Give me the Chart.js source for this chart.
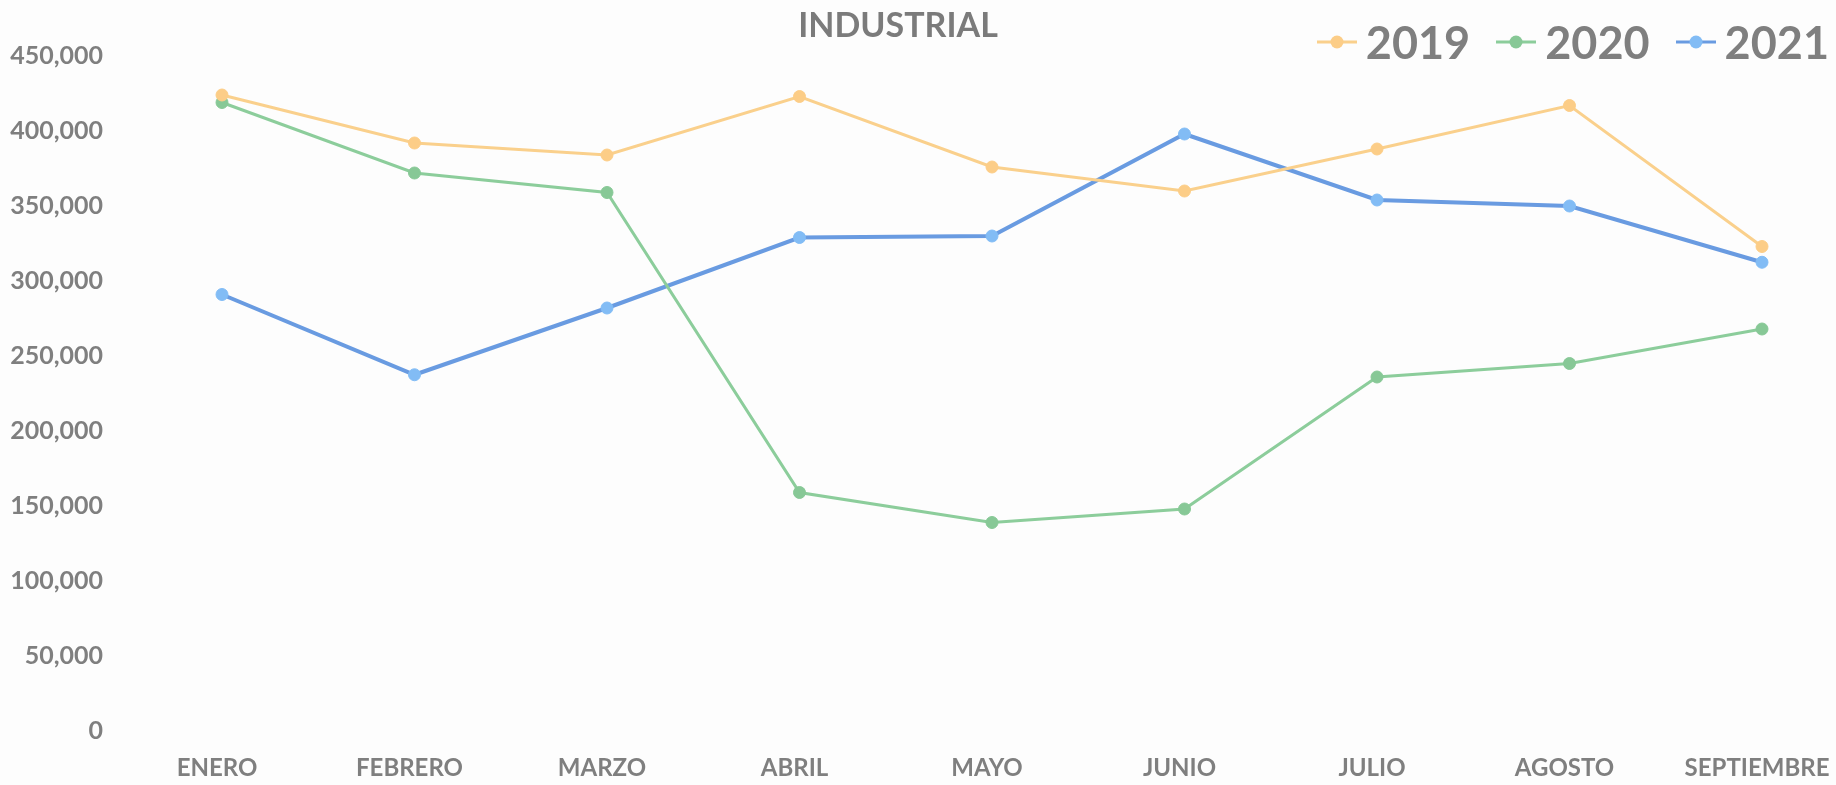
<!DOCTYPE html>
<html>
<head>
<meta charset="utf-8">
<script src="https://cdn.jsdelivr.net/npm/chart.js@4/dist/chart.umd.min.js"></script>
<style>
  html, body { margin: 0; padding: 0; background: #fdfdfd; }
  #wrap { position: relative; width: 1836px; height: 785px; }
  #title {
    position: absolute; left: 798px; top: 3px; width: 200px; text-align: center;
    font: bold 34px Lato, sans-serif; color: #7b7b7b; white-space: nowrap;
  }
  #legend {
    position: absolute; right: 7px; top: 15px; display: flex; align-items: center;
    font: bold 45px Lato, sans-serif; color: #7f7f7f;
  }
  .item { display: flex; align-items: center; margin-left: 26px; }
  .item canvas { margin-right: 9px; }
</style>
</head>
<body>
<div id="wrap">
  <canvas id="myChart" width="1836" height="785"></canvas>
  <div id="title">INDUSTRIAL</div>
  <div id="legend"></div>
</div>
<script>
const months = ['ENERO', 'FEBRERO', 'MARZO', 'ABRIL', 'MAYO', 'JUNIO', 'JULIO', 'AGOSTO', 'SEPTIEMBRE'];
const years = ['2019', '2020', '2021'];

const values2019 = [424000, 392000, 384000, 423000, 376000, 360000, 388000, 417000, 323000];
const values2020 = [419000, 372000, 359000, 159000, 139000, 148000, 236000, 245000, 268000];
const values2021 = [291000, 237500, 282000, 329000, 330000, 398000, 354000, 350000, 312500];

const yTicks = [0, 50000, 100000, 150000, 200000, 250000, 300000, 350000, 400000, 450000];

const LINE_COLORS = { y2019: 'rgb(250, 208, 140)', y2020: 'rgb(140, 205, 155)', y2021: 'rgb(105, 155, 225)' };
const DOT_COLORS = { y2019: 'rgb(252, 205, 135)', y2020: 'rgb(135, 200, 150)', y2021: 'rgb(130, 188, 245)' };
const LINE_WIDTHS = { y2019: 3, y2020: 3, y2021: 4 };

const series = [values2019, values2020, values2021];

const data = {
  labels: months,
  datasets: years.map((yr, i) => {
    let key = 'y' + yr;
    return {
      label: yr,
      data: series[i],
      borderColor: LINE_COLORS[key],
      backgroundColor: DOT_COLORS[key],
      pointBackgroundColor: DOT_COLORS[key],
      pointBorderColor: DOT_COLORS[key],
      borderWidth: LINE_WIDTHS[key],
      pointRadius: 6,
      pointBorderWidth: 1,
      tension: 0
    };
  })
};

const config = {
  type: 'line',
  data: data,
  options: {
    responsive: false,
    animation: false,
    devicePixelRatio: 1,
    layout: { padding: { left: 0, right: 74, top: 56, bottom: 4 } },
    plugins: {
      legend: { display: false },
      title: { display: false },
      tooltip: { enabled: false }
    },
    scales: {
      x: {
        offset: false,
        afterFit: (scale) => {
          scale.height = 50;
          scale.paddingLeft = 0;
          scale.paddingRight = 0;
        },
        grid: { display: false, drawTicks: false },
        border: { display: false },
        ticks: {
          color: '#7f7f7f',
          font: { family: 'Lato', weight: 'bold', size: 24 },
          padding: 23,
          labelOffset: -5,
          maxRotation: 0,
          autoSkip: false
        }
      },
      y: {
        min: 0,
        max: 450000,
        afterBuildTicks: (scale) => { scale.ticks = yTicks.map(v => ({ value: v })); },
        afterFit: (scale) => {
          // wide gap between the labels and the first month, without the
          // tick padding leaking into the top/bottom of the plot
          scale.width = 222;
          scale.paddingTop = 14;
          scale.paddingBottom = 0;
        },
        grid: { display: false, drawTicks: false },
        border: { display: false },
        ticks: {
          color: '#7f7f7f',
          font: { family: 'Lato', weight: 'bold', size: 25 },
          padding: 119,
          callback: (v) => v.toLocaleString('en-US')
        }
      }
    }
  }
};

const myChart = new Chart(document.getElementById('myChart'), config);

// legend built from the datasets: short line with a dot, then the year
const legendBox = document.getElementById('legend');
myChart.data.datasets.forEach((ds) => {
  let item = document.createElement('div');
  item.className = 'item';
  let mark = document.createElement('canvas');
  mark.width = 40;
  mark.height = 16;
  let c = mark.getContext('2d');
  c.strokeStyle = ds.borderColor;
  c.lineWidth = 3;
  c.beginPath();
  c.moveTo(0, 8);
  c.lineTo(40, 8);
  c.stroke();
  c.fillStyle = ds.pointBackgroundColor;
  c.beginPath();
  c.arc(20, 8, 6.5, 0, Math.PI * 2);
  c.fill();
  let txt = document.createElement('span');
  txt.textContent = ds.label;
  item.appendChild(mark);
  item.appendChild(txt);
  legendBox.appendChild(item);
});
</script>
</body>
</html>
